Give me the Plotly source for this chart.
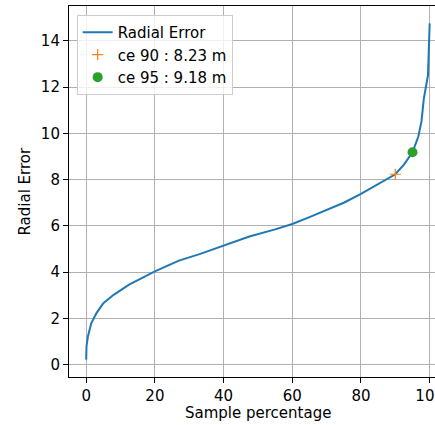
import plotly.graph_objects as go

# Data
sample_pct = [0, 0.1, 0.5, 1.5, 3, 5, 8, 12.5, 20, 27, 33, 40, 47.5, 55, 60, 65, 70,
              75, 80, 84, 87, 90, 92.5, 95, 96.7, 97.6, 98.3, 99, 99.5, 100]
radial_err = [0.22, 0.8, 1.22, 1.8, 2.23, 2.66, 3.02, 3.46, 4.03, 4.5, 4.78, 5.14, 5.54,
              5.85, 6.08, 6.38, 6.70, 7.0, 7.38, 7.72, 7.99, 8.23, 8.65, 9.18, 9.86,
              10.5, 11.5, 12.1, 12.5, 14.75]
ce90 = (90, 8.23)
ce95 = (95, 9.18)
x_ticks = [0, 20, 40, 60, 80, 100]
y_ticks = [0, 2, 4, 6, 8, 10, 12, 14]

FONT = "DejaVu Sans"
FS = 15
TXT = "black"
fig = go.Figure()
fig.add_trace(go.Scatter(x=sample_pct, y=radial_err, mode="lines", name="Radial Error",
                         line=dict(color="#1f77b4", width=2)))
fig.add_trace(go.Scatter(x=[ce90[0]], y=[ce90[1]], mode="markers",
                         name=f"ce 90 : {ce90[1]:.2f} m",
                         marker=dict(symbol="cross-thin", size=8,
                                     line=dict(color="#ff7f0e", width=1.2), color="#ff7f0e")))
fig.add_trace(go.Scatter(x=[ce95[0]], y=[ce95[1]], mode="markers",
                         name=f"ce 95 : {ce95[1]:.2f} m",
                         marker=dict(symbol="circle", size=10, color="#2ca02c")))

axis_common = dict(showgrid=True, gridcolor="#b0b0b0", gridwidth=0.8, zeroline=False,
                   showline=True, linecolor="black", linewidth=1.1, ticks="outside",
                   ticklen=5, tickwidth=1.1, tickcolor="black",
                   tickfont=dict(family=FONT, size=FS, color=TXT))
fig.update_xaxes(range=[-5, 101.55], tickvals=x_ticks, mirror=True,
                 ticklabeloverflow="allow", **axis_common)
fig.update_yaxes(range=[-0.53, 15.5], tickvals=y_ticks, **axis_common)

fig.update_layout(
    width=435, height=425,
    margin=dict(l=69, r=0, t=6, b=48, autoexpand=False),
    plot_bgcolor="white", paper_bgcolor="white",
    font=dict(family=FONT, size=FS, color=TXT),
    showlegend=True,
    legend=dict(x=0.021, y=0.976, xanchor="left", yanchor="top",
                bgcolor="rgba(255,255,255,0.8)", bordercolor="#cccccc", borderwidth=1,
                font=dict(family=FONT, size=FS, color=TXT), itemwidth=30),
    annotations=[
        dict(text="Sample percentage", xref="paper", yref="paper", x=0.516, y=0,
             yshift=-36, xanchor="center", yanchor="middle", showarrow=False,
             font=dict(family=FONT, size=FS, color=TXT)),
        dict(text="Radial Error", xref="paper", yref="paper", x=0, xshift=-45, y=0.5,
             textangle=-90, xanchor="center", yanchor="middle", showarrow=False,
             font=dict(family=FONT, size=FS, color=TXT)),
    ],
)
fig.write_html("out.html")
